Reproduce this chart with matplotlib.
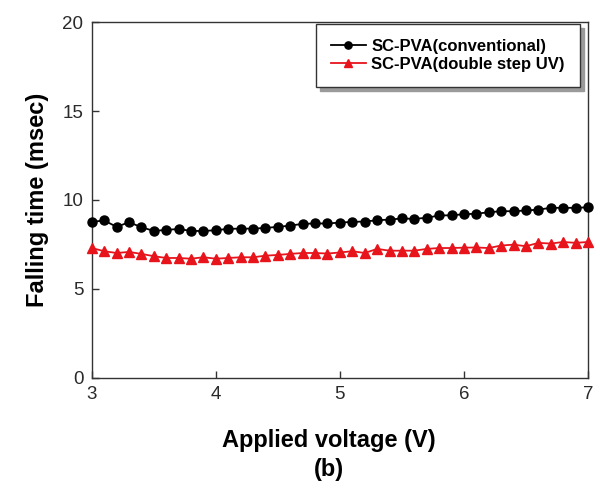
import numpy as np
import matplotlib
matplotlib.use("Agg")
import matplotlib.pyplot as plt

plt.rcParams['font.family'] = ['Liberation Sans', 'DejaVu Sans']

voltage = [round(3.0 + 0.1 * i, 1) for i in range(41)]
conventional = [8.77, 8.85, 8.49, 8.75, 8.47, 8.26, 8.32, 8.37, 8.26, 8.26,
                8.30, 8.38, 8.39, 8.39, 8.43, 8.49, 8.56, 8.66, 8.68, 8.68,
                8.73, 8.77, 8.79, 8.86, 8.90, 8.96, 8.94, 9.00, 9.13, 9.14,
                9.20, 9.23, 9.31, 9.37, 9.37, 9.41, 9.46, 9.56, 9.56, 9.56,
                9.59]
double_step = [7.30, 7.12, 7.02, 7.08, 6.97, 6.84, 6.74, 6.74, 6.70, 6.78,
               6.70, 6.74, 6.78, 6.78, 6.87, 6.91, 6.97, 7.02, 7.02, 6.99,
               7.05, 7.12, 7.02, 7.25, 7.15, 7.15, 7.15, 7.25, 7.30, 7.30,
               7.32, 7.33, 7.30, 7.44, 7.49, 7.40, 7.59, 7.55, 7.64, 7.59,
               7.64]
labels = ["SC-PVA(conventional)", "SC-PVA(double step UV)"]
xticks = [3, 4, 5, 6, 7]
yticks = [0, 5, 10, 15, 20]

fig = plt.figure(figsize=(6, 4.92), dpi=100)
ax = fig.add_axes([0.153, 0.232, 0.827, 0.723])

ax.plot(voltage, conventional, color='black', marker='o', markersize=6.5,
        linewidth=1.3, label=labels[0], clip_on=False, zorder=3)
ax.plot(voltage, double_step, color='#e8141c', marker='^', markersize=6.5,
        linewidth=1.3, label=labels[1], clip_on=False, zorder=3)

ax.set_xlim(3, 7)
ax.set_ylim(0, 20)
ax.set_xticks(xticks)
ax.set_yticks(yticks)
ax.tick_params(direction='in', length=5, width=1, labelsize=13.5,
               color='#333333', labelcolor='#2a2a2a', pad=6)
for s in ax.spines.values():
    s.set_color('#333333')
    s.set_linewidth(1)

ax.set_ylabel("Falling time (msec)", fontsize=17, fontweight='bold', labelpad=10)
fig.text(0.548, 0.105, "Applied voltage (V)", fontsize=17, fontweight='bold',
         ha='center', va='center')
fig.text(0.548, 0.045, "(b)", fontsize=17, fontweight='bold',
         ha='center', va='center')

leg = ax.legend(loc='upper right', bbox_to_anchor=(580 / 600, 1 - 24 / 492),
                bbox_transform=fig.transFigure, borderaxespad=0,
                prop={'weight': 'bold', 'size': 12}, frameon=True, fancybox=False,
                shadow={'color': '#9a9a9a', 'ox': 3, 'oy': -3, 'alpha': 1},
                edgecolor='#333333', handlelength=2.1,
                handletextpad=0.35, borderpad=0.9, labelspacing=0.15,
                markerscale=0.8)
leg.get_frame().set_linewidth(1)

fig.savefig("out.png", dpi=100)
